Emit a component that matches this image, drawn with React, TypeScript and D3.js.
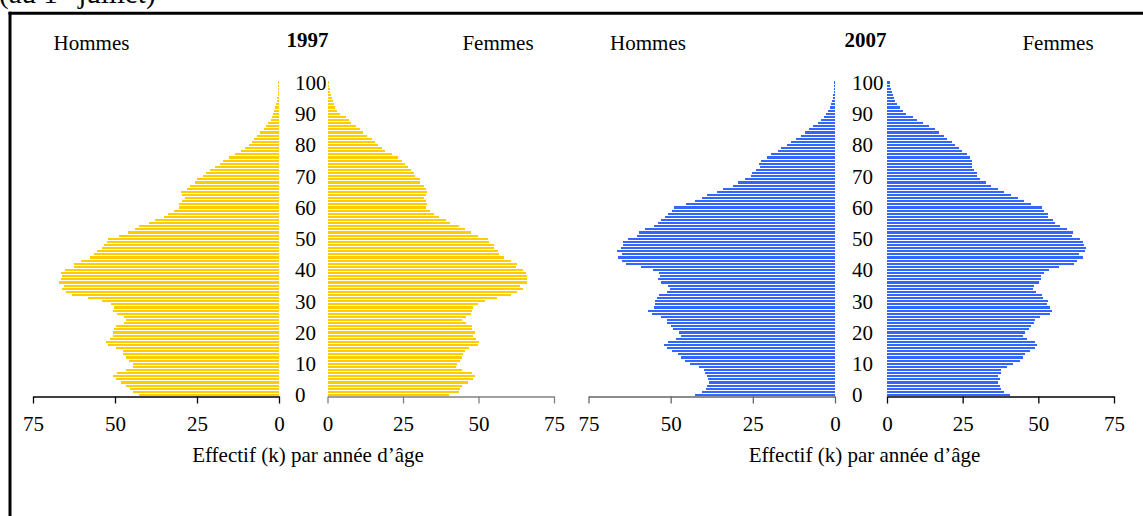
import React, { useEffect, useRef } from 'react';
import * as d3 from 'd3';

// ages 0..100 (one bar per year of age)
const ages = d3.range(0, 101);
const ageTicks = [0, 10, 20, 30, 40, 50, 60, 70, 80, 90, 100];
const valueTicks = [0, 25, 50, 75];

// thousands of people per year of age, index = age
const hommes1997 = [
  42.7, 44.6, 45.5, 46.7, 48.2, 49.7, 50.7, 49.4, 46.7, 44.6,
  44.6, 45.8, 46.7, 47.6, 47.6, 49.7, 52.2, 52.8, 51.6, 50.7,
  50.7, 50.4, 49.7, 47.3, 46.7, 47.3, 49.4, 50.7, 50.4, 51.3,
  54.0, 58.3, 63.2, 65.0, 66.2, 65.6, 67.1, 66.5, 66.2, 66.5,
  65.3, 62.6, 62.6, 60.4, 57.7, 56.5, 55.5, 54.0, 53.4, 52.5,
  52.2, 48.8, 46.1, 43.9, 42.7, 39.7, 37.8, 35.1, 33.9, 32.0,
  30.5, 30.5, 29.6, 28.7, 29.6, 29.9, 28.1, 27.2, 25.6, 25.0,
  23.2, 22.3, 21.1, 19.5, 18.0, 17.1, 15.3, 13.4, 11.6, 10.4,
  9.2, 8.2, 7.6, 6.7, 5.8, 4.6, 4.0, 3.4, 2.4, 2.1,
  1.8, 1.5, 1.2, 0.9, 0.6, 0.6, 0.4, 0.3, 0.3, 0.3,
  0.3,
];
const femmes1997 = [
  40.1, 43.4, 44.0, 44.7, 46.4, 48.3, 48.7, 47.7, 44.7, 42.7,
  43.0, 44.0, 44.4, 45.0, 45.4, 47.0, 49.7, 50.0, 49.3, 48.3,
  49.0, 48.0, 48.0, 45.7, 44.7, 45.7, 47.4, 48.0, 48.3, 49.7,
  52.3, 56.0, 60.9, 62.6, 64.6, 63.6, 65.9, 66.2, 66.2, 65.6,
  64.9, 62.3, 62.9, 60.9, 58.3, 56.9, 56.3, 55.0, 55.0, 53.6,
  53.0, 49.7, 47.4, 45.4, 43.7, 40.7, 39.1, 36.8, 35.4, 33.8,
  32.5, 32.8, 32.5, 31.8, 32.5, 32.8, 32.5, 31.8, 30.5, 30.5,
  29.1, 28.8, 27.8, 26.8, 25.5, 24.8, 23.2, 21.2, 18.9, 17.9,
  16.6, 15.6, 14.6, 13.2, 11.9, 10.6, 9.3, 7.9, 7.0, 6.0,
  4.0, 3.3, 2.6, 2.3, 1.9, 1.5, 1.2, 0.9, 0.9, 0.55,
  0.55,
];
const hommes2007 = [
  42.6, 40.5, 39.3, 39.0, 38.4, 38.7, 39.0, 39.6, 39.9, 41.4,
  44.1, 45.7, 46.9, 47.8, 49.6, 51.1, 52.1, 50.8, 48.4, 46.9,
  47.5, 49.3, 49.9, 51.1, 51.1, 53.0, 55.7, 56.9, 55.1, 54.8,
  54.8, 54.2, 53.6, 51.1, 50.2, 50.8, 53.0, 53.9, 53.3, 53.6,
  55.4, 59.1, 63.6, 64.8, 66.1, 64.8, 66.4, 65.1, 64.5, 64.5,
  63.0, 60.3, 59.7, 57.8, 55.1, 53.9, 53.0, 51.7, 50.8, 49.6,
  49.0, 45.4, 42.6, 40.5, 39.0, 35.9, 34.1, 31.0, 29.5, 27.4,
  25.6, 25.3, 24.0, 22.8, 23.1, 22.5, 20.7, 19.5, 17.4, 16.4,
  14.6, 13.4, 11.9, 10.4, 9.1, 7.9, 6.7, 5.2, 4.3, 3.3,
  2.7, 2.1, 1.5, 1.2, 0.9, 0.6, 0.6, 0.3, 0.3, 0.3,
  0.3,
];
const femmes2007 = [
  40.6, 38.6, 37.6, 37.3, 36.6, 37.3, 36.6, 37.6, 37.6, 39.6,
  41.6, 43.9, 44.9, 45.5, 47.2, 48.8, 49.5, 48.8, 46.2, 44.9,
  45.5, 46.9, 47.5, 48.5, 48.8, 50.5, 53.8, 54.5, 53.8, 52.8,
  53.1, 51.5, 51.2, 49.2, 48.2, 48.5, 50.2, 50.8, 50.8, 51.8,
  53.5, 56.8, 61.7, 62.7, 64.7, 63.4, 65.3, 65.7, 65.0, 64.7,
  63.7, 61.1, 61.4, 59.4, 57.1, 55.4, 54.8, 53.1, 53.1, 51.8,
  51.2, 47.5, 45.2, 43.2, 40.9, 38.6, 36.6, 34.3, 32.7, 30.7,
  29.7, 29.7, 28.7, 28.1, 28.1, 28.1, 27.4, 26.4, 24.8, 23.8,
  22.4, 21.5, 19.8, 18.8, 17.2, 15.8, 13.9, 11.9, 9.9, 8.6,
  6.3, 5.3, 4.3, 3.3, 2.6, 2.3, 2.0, 1.7, 1.3, 1.0,
  1.0,
];

const FONT = '"Liberation Serif", "Times New Roman", serif';
const W = 1143;
const H = 516;

const panels = [
  {
    year: '1997', men: hommes1997, women: femmes1997, color: '#FFCC00',
    menRange: [279, 33], womenRange: [327.5, 554],
    ageX: 295, yearX: 307.5, menLabelX: 91.5, womenLabelX: 498, titleX: 308,
    menAxisColor: '#000', womenAxisColor: '#808080',
  },
  {
    year: '2007', men: hommes2007, women: femmes2007, color: '#3366FF',
    menRange: [835, 588.5], womenRange: [887, 1114],
    ageX: 852, yearX: 865.5, menLabelX: 648, womenLabelX: 1058, titleX: 864.5,
    menAxisColor: '#666', womenAxisColor: '#000',
  },
];

const App: React.FC = () => {
  const svgRef = useRef<SVGSVGElement>(null);

  useEffect(() => {
    if (!svgRef.current) return;
    const svg = d3.select(svgRef.current);
    svg.selectAll('*').remove();

    const axisY = 396.5;

    const yScale = d3.scaleBand<number>()
      .domain([...ages].reverse())
      .range([80.5, 397])
      .padding(0.3);

    // frame (only top and left edges are inside the picture)
    svg.append('line')
      .attr('x1', 8.5).attr('x2', W)
      .attr('y1', 13.3).attr('y2', 13.3)
      .attr('stroke', '#000').attr('stroke-width', 3);
    svg.append('line')
      .attr('x1', 10).attr('x2', 10)
      .attr('y1', 11.8).attr('y2', H)
      .attr('stroke', '#000').attr('stroke-width', 3);

    // header cut by the top edge
    const header = svg.append('text')
      .attr('x', -1).attr('y', 3)
      .attr('font-family', FONT).attr('font-size', 29)
      .attr('fill', '#000');
    header.append('tspan').text('(au 1');
    header.append('tspan').attr('font-size', 17).attr('dy', -11).text('er');
    header.append('tspan').attr('dy', 11).text(' juillet)');

    panels.forEach(p => {
      const g = svg.append('g');

      const xMen = d3.scaleLinear().domain([0, 75]).range(p.menRange);
      const xWomen = d3.scaleLinear().domain([0, 75]).range(p.womenRange);

      // axes
      const drawAxis = (scale: d3.ScaleLinear<number, number>, color: string) => {
        const ax = g.append('g')
          .attr('transform', `translate(0,${axisY})`)
          .call(d3.axisBottom(scale)
            .tickValues(valueTicks)
            .tickSizeInner(7)
            .tickSizeOuter(0)
            .tickPadding(13)
            .tickFormat(d => `${d}`));
        ax.attr('font-family', FONT).attr('font-size', 21);
        ax.select('.domain').attr('stroke', color).attr('stroke-width', 1.3);
        ax.selectAll('line').attr('stroke', color).attr('stroke-width', 1.3);
        ax.selectAll('text').attr('fill', '#000');
      };
      drawAxis(xMen, p.menAxisColor);
      drawAxis(xWomen, p.womenAxisColor);

      // bars
      g.selectAll('.men')
        .data(ages)
        .enter()
        .append('rect')
        .attr('x', a => xMen(p.men[a]))
        .attr('y', a => yScale(a)!)
        .attr('width', a => xMen(0) - xMen(p.men[a]))
        .attr('height', yScale.bandwidth())
        .attr('fill', p.color)
        .attr('shape-rendering', 'crispEdges');

      g.selectAll('.women')
        .data(ages)
        .enter()
        .append('rect')
        .attr('x', xWomen(0))
        .attr('y', a => yScale(a)!)
        .attr('width', a => xWomen(p.women[a]) - xWomen(0))
        .attr('height', yScale.bandwidth())
        .attr('fill', p.color)
        .attr('shape-rendering', 'crispEdges');

      // age labels in the middle
      g.selectAll('.age')
        .data(ageTicks)
        .enter()
        .append('text')
        .attr('x', p.ageX)
        .attr('y', a => yScale(a)! + yScale.bandwidth() / 2)
        .attr('dy', '0.35em')
        .attr('font-family', FONT)
        .attr('font-size', 21)
        .text(a => `${a}`);

      // titles
      g.append('text')
        .attr('x', p.menLabelX).attr('y', 50)
        .attr('text-anchor', 'middle')
        .attr('font-family', FONT).attr('font-size', 21)
        .text('Hommes');
      g.append('text')
        .attr('x', p.womenLabelX).attr('y', 50)
        .attr('text-anchor', 'middle')
        .attr('font-family', FONT).attr('font-size', 21)
        .text('Femmes');
      g.append('text')
        .attr('x', p.yearX).attr('y', 47)
        .attr('text-anchor', 'middle')
        .attr('font-family', FONT).attr('font-size', 21)
        .attr('font-weight', 'bold')
        .text(p.year);

      g.append('text')
        .attr('x', p.titleX).attr('y', 462)
        .attr('text-anchor', 'middle')
        .attr('font-family', FONT).attr('font-size', 21)
        .text('Effectif (k) par année d\u2019âge');
    });
  }, []);

  return (
    <svg
      ref={svgRef}
      width={W}
      height={H}
      style={{ position: 'absolute', left: 0, top: 0, background: '#fff' }}
    />
  );
};

export default App;
